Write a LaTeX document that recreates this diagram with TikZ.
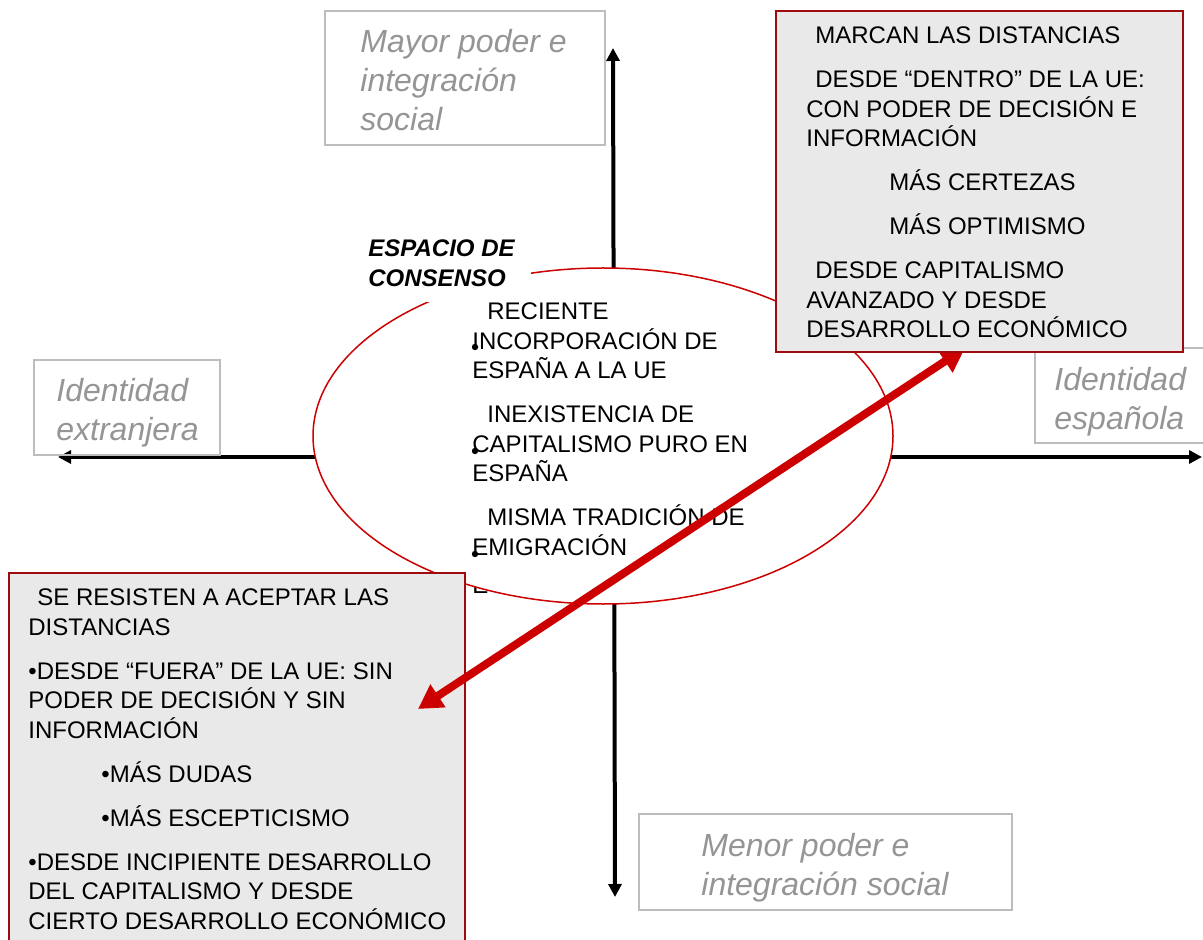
\documentclass[tikz,border=0pt]{standalone}
\usepackage{fontspec}
\setmainfont{Liberation Sans}
\usetikzlibrary{arrows.meta,positioning,shapes.geometric}

\definecolor{labelgray}{HTML}{959595}
\definecolor{labelframe}{HTML}{BDBDBD}
\definecolor{consred}{HTML}{CC0000}
\definecolor{boxred}{HTML}{9E0B0F}
\definecolor{boxfill}{HTML}{E9E9E9}

\begin{document}
\begin{tikzpicture}[x=0.5pt,y=-0.5pt,
    axis/.style={line width=2pt,-{Triangle[length=6.5pt,width=6.5pt]}},
    labelbox/.style={draw=labelframe,line width=0.75pt,inner sep=0},
    labeltext/.style={anchor=north west,inner sep=0,align=left,text=labelgray,
      font=\fontsize{16}{19.5}\selectfont\itshape},
    bodytext/.style={anchor=north west,inner sep=0,align=left,
      font=\fontsize{12}{14.75}\selectfont},
    redbox/.style={draw=boxred,fill=boxfill,line width=1pt,inner sep=0},
    redarrow/.style={color=consred,line width=4pt,
      {Triangle[length=12pt,width=13pt]}-{Triangle[length=12pt,width=13pt]}}]
  \useasboundingbox (0,0) rectangle (1203,940);

  % axes
  \coordinate (origin) at (614,457);
  \coordinate (axisTop) at (613,48);
  \coordinate (axisBottom) at (615,897);
  \coordinate (axisLeft) at (58,457);
  \coordinate (axisRight) at (1202,457);
  \draw[axis] (origin) -- (axisTop);
  \draw[axis] (origin) -- (axisBottom);
  \draw[axis] (origin) -- (axisLeft);
  \draw[axis] (origin) -- (axisRight);

  % grey labels at the ends of the axes
  \node[labelbox,minimum width=140pt,minimum height=67pt] (mayorBox) at (465,78) {};
  \node[labeltext] (mayorTxt) at (360,28.5) {Mayor poder e\\integración\\social};
  \node[labelbox,minimum width=93pt,minimum height=47.5pt] (extBox) at (127,407.5) {};
  \node[labeltext] (extTxt) at (56,377.5) {Identidad\\extranjera};
  \node[labelbox,minimum width=90pt,minimum height=47.5pt] (espBox) at (1125,395.5) {};
  \node[labeltext] (espTxt) at (1054,366.5) {Identidad\\española};
  \node[labelbox,minimum width=186.5pt,minimum height=48pt] (menorBox) at (825.5,862) {};
  \node[labeltext] (menorTxt) at (701,832.5) {Menor poder e\\integración social};

  % hidden text behind the ellipse
  \node[bodytext,anchor=base west] (hiddenTxt) at (472,593) {E};

  % consensus space
  \node[ellipse,draw=consred,fill=white,line width=0.75pt,
    minimum width=290pt,minimum height=168pt] (consenso) at (603,436) {};
  \node[anchor=north west,fill=white,inner sep=8pt,align=left,
    font=\fontsize{12}{14.75}\selectfont\bfseries\itshape] (consensoTitle) at (352,223.5)
    {ESPACIO DE\\CONSENSO};
  \node[bodytext] (consensoTxt) at (472,302.4) {%
    \hspace*{7.5pt}RECIENTE\\
    INCORPORACIÓN DE\\
    ESPAÑA A LA UE\\[7.25pt]
    \hspace*{7.5pt}INEXISTENCIA DE\\
    CAPITALISMO PURO EN\\
    ESPAÑA\\[7.25pt]
    \hspace*{7.5pt}MISMA TRADICIÓN DE\\
    EMIGRACIÓN};
  \foreach \y in {347,451,554}
    \fill (475,\y) circle (1.6pt);

  % outside the EU
  \node[redbox,minimum width=228pt,minimum height=188.5pt] (fueraBox) at (237,761.5) {};
  \node[bodytext] (fueraTxt) at (28,588.4) {%
    \hspace*{4.5pt}SE RESISTEN A ACEPTAR LAS\\
    DISTANCIAS\\[7.25pt]
    •DESDE “FUERA” DE LA UE: SIN\\
    PODER DE DECISIÓN Y SIN\\
    INFORMACIÓN\\[7.25pt]
    \hspace*{36.5pt}•MÁS DUDAS\\[7.25pt]
    \hspace*{36.5pt}•MÁS ESCEPTICISMO\\[7.25pt]
    •DESDE INCIPIENTE DESARROLLO\\
    DEL CAPITALISMO Y DESDE\\
    CIERTO DESARROLLO ECONÓMICO};

  % distance between the two positions
  \coordinate (arrowIn) at (418,709);
  \coordinate (arrowOut) at (965,348);
  \draw[redarrow] (arrowIn) -- (arrowOut);

  % inside the EU
  \node[redbox,minimum width=203.5pt,minimum height=170.5pt] (dentroBox) at (979.5,181.5) {};
  \node[bodytext] (dentroTxt) at (806,26.4) {%
    \hspace*{4.5pt}MARCAN LAS DISTANCIAS\\[7.25pt]
    \hspace*{4.5pt}DESDE “DENTRO” DE LA UE:\\
    CON PODER DE DECISIÓN E\\
    INFORMACIÓN\\[7.25pt]
    \hspace*{41.5pt}MÁS CERTEZAS\\[7.25pt]
    \hspace*{41.5pt}MÁS OPTIMISMO\\[7.25pt]
    \hspace*{4.5pt}DESDE CAPITALISMO\\
    AVANZADO Y DESDE\\
    DESARROLLO ECONÓMICO};
\end{tikzpicture}
\end{document}
